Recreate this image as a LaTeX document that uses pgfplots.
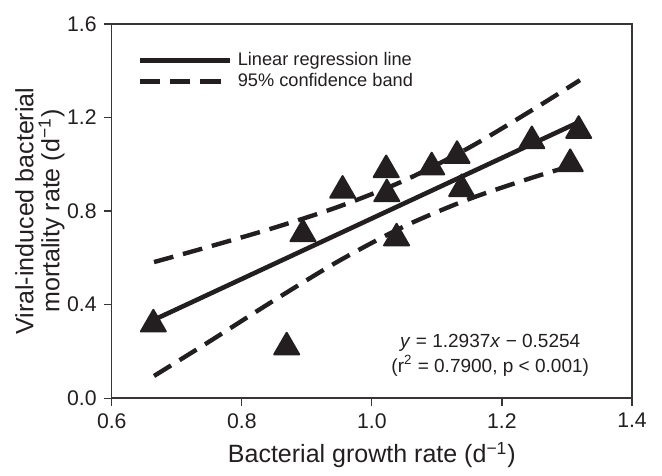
\documentclass[border=0pt]{standalone}
\usepackage{fontspec}
\setmainfont{Liberation Sans}
\usepackage{pgfplots}
\pgfplotsset{compat=1.18}

\definecolor{ink}{HTML}{231F20}

\begin{document}
\begin{tikzpicture}
\useasboundingbox (-55.85pt,-38.85pt) rectangle (275pt,199pt);

\begin{axis}[
    scale only axis,
    width=260pt, height=187pt,
    xmin=0.6, xmax=1.4,
    ymin=0, ymax=1.6,
    xtick={0.6,0.8,1.0,1.2,1.4},
    ytick={0,0.4,0.8,1.2,1.6},
    tick align=outside,
    tick pos=left,
    major tick length=4pt,
    axis line style={color=ink!90, line width=0.75pt},
    every tick/.style={color=ink!90, line width=0.6pt},
    /pgf/number format/assume math mode=true,
    /pgf/number format/.cd, fixed, fixed zerofill, precision=1, /pgfplots/.cd,
    tick label style={font=\fontsize{10.6}{12}\selectfont, color=ink},
    xlabel={Bacterial growth rate (d\textsuperscript{−1})},
    ylabel={Viral-induced bacterial\\mortality rate (d\textsuperscript{−1})},
    label style={font=\fontsize{12.5}{13}\selectfont, color=ink},
    xlabel style={at={(axis description cs:0.5,-0.152)}, anchor=center},
    ylabel style={at={(axis description cs:-0.138,0.5)}, anchor=center, align=center},
    legend style={draw=none, fill=none, inner sep=0pt,
        at={(axis description cs:0.05,0.936)}, anchor=north west,
        font=\fontsize{9.1}{11}\selectfont, text=ink,
        row sep=-1.5pt,
        /tikz/every odd column/.append style={column sep=1pt}},
    legend cell align=left,
    legend image code/.code={\draw[#1] (0pt,0pt) -- (44.5pt,0pt);},
]

% regression line
\addplot[color=ink, line width=2.3pt] coordinates {
    (0.664, 0.334) (1.318, 1.180)
};
\addlegendentry{Linear regression line}

% 95% confidence band, upper
\addplot[color=ink, line width=2.2pt, dash pattern=on 10pt off 5pt, smooth] coordinates {
    (0.665, 0.582) (0.75, 0.648) (0.85, 0.729) (0.95, 0.820)
    (1.05, 0.931) (1.15, 1.072) (1.25, 1.238) (1.32, 1.360)
};
\addlegendentry{95\% confidence band}

% 95% confidence band, lower
\addplot[color=ink, line width=2.2pt, dash pattern=on 10pt off 5pt, smooth, forget plot] coordinates {
    (0.665, 0.095) (0.75, 0.242) (0.85, 0.419) (0.95, 0.588)
    (1.05, 0.735) (1.15, 0.852) (1.25, 0.946) (1.32, 1.004)
};

% observations
\addplot[only marks, mark=triangle*, mark size=7.2pt, forget plot,
    mark options={fill=ink, draw=ink, line width=1pt, line join=round}] coordinates {
    (0.664, 0.316)
    (0.869, 0.218)
    (0.894, 0.702)
    (0.955, 0.888)
    (1.022, 0.976)
    (1.023, 0.873)
    (1.038, 0.684)
    (1.092, 0.988)
    (1.131, 1.037)
    (1.138, 0.895)
    (1.246, 1.100)
    (1.305, 1.002)
    (1.318, 1.144)
};

\node[align=center, font=\fontsize{9.5}{12.5}\selectfont, text=ink]
    at (axis cs:1.182,0.183)
    {\textit{y} = 1.2937\textit{x} − 0.5254\\(r\textsuperscript{2} = 0.7900, p < 0.001)};

\end{axis}
\end{tikzpicture}
\end{document}
